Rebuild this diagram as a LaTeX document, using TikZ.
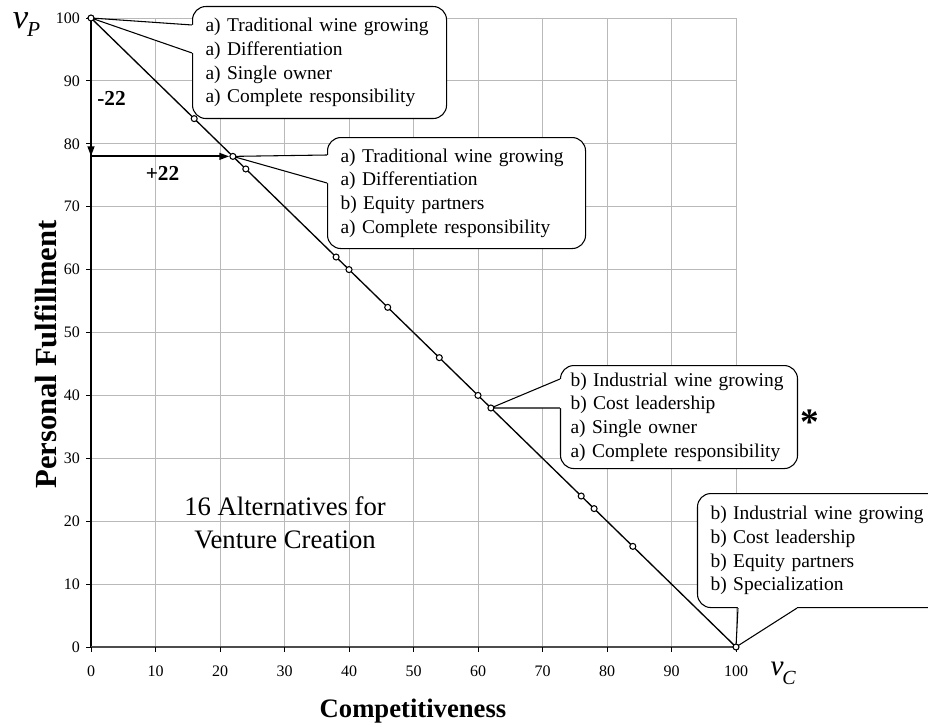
\documentclass[tikz,border=0pt]{standalone}
\usepackage{fontspec}
\setmainfont{Liberation Serif}
\usetikzlibrary{arrows.meta}
\hyphenpenalty=10000

\begin{document}
\begin{tikzpicture}[
    x=4.8375pt, y=4.7175pt,
    gridline/.style={draw=gray!55, line width=0.6pt},
    ticklabel/.style={font=\fontsize{12}{12}\selectfont, inner sep=0pt},
    axistitle/.style={font=\fontsize{20}{20}\selectfont\bfseries},
    callbox/.style={draw, fill=white, line width=0.8pt, rounded corners=10pt, anchor=north west,
        align=left, inner ysep=0pt, inner xsep=9.75pt, font=\fontsize{14.6}{17.8}\selectfont},
    alt/.style={circle, draw, fill=white, line width=0.8pt, inner sep=0pt, minimum size=4.5pt},
    movearrow/.style={-{Triangle[length=7.5pt,width=5pt]}, line width=1.5pt},
    jump/.style={font=\fontsize{16}{16}\selectfont\bfseries},
]
    \useasboundingbox (-14.109,-12.56) rectangle (129.767,102.862);

    % grid
    \foreach \g in {10,20,...,100} {
        \draw[gridline] (\g,0) -- (\g,100);
        \draw[gridline] (0,\g) -- (100,\g);
    }

    % axes, ticks and tick labels
    \draw[line width=0.8pt] (0,0) -- (0,100);
    \draw[draw=gray!60!black, line width=1.5pt] (0,0) -- (100,0);
    \foreach \t in {0,10,...,100} {
        \draw[line width=0.6pt] (0,\t) -- ++(-4pt,0);
        \draw[line width=0.6pt] (\t,0) -- ++(0,-4pt);
        \node[ticklabel, anchor=east] (ly\t) at (-1.7,\t) {\t};
        \node[ticklabel] (lx\t) at (\t,-3.8) {\t};
    }

    % the alternatives
    \foreach \v in {0,16,22,24,38,40,46,54,60,62,76,78,84,100}
        \coordinate (a\v) at (\v,{100-\v});
    \draw[line width=1pt] (a0) -- (a100);

    % callouts
    \node[callbox, text width=171pt, minimum height=84pt] (c1) at (15.66,101.91)
        {a) Traditional wine growing\\a) Differentiation\\a) Single owner\\a) Complete responsibility};
    \coordinate (c1a) at ([yshift=-14.25pt]c1.north west);
    \coordinate (c1b) at ([yshift=-35.25pt]c1.north west);
    \fill[white] (c1a) -- (a0) -- (c1b) -- ([xshift=2pt]c1b) -- ([xshift=2pt]c1a) -- cycle;
    \draw[line width=0.8pt] (c1a) -- (a0) -- (c1b);

    \node[callbox, text width=174pt, minimum height=83.25pt] (c2) at (36.59,81.08)
        {a) Traditional wine growing\\a) Differentiation\\b) Equity partners\\a) Complete responsibility};
    \coordinate (c2a) at ([yshift=-13.5pt]c2.north west);
    \coordinate (c2b) at ([yshift=-34.5pt]c2.north west);
    \fill[white] (c2a) -- (a22) -- (c2b) -- ([xshift=2pt]c2b) -- ([xshift=2pt]c2a) -- cycle;
    \draw[line width=0.8pt] (c2a) -- (a22) -- (c2b);

    \node[callbox, inner xsep=7.5pt, text width=162.75pt, minimum height=77.25pt] (c3) at (72.71,44.83)
        {b) Industrial wine growing\\b) Cost leadership\\a) Single owner\\a) Complete responsibility};
    \coordinate (c3a) at ([yshift=-10.5pt]c3.north west);
    \coordinate (c3b) at ([yshift=-32.25pt]c3.north west);
    \fill[white] (c3a) -- (a62) -- (c3b) -- ([xshift=2pt]c3b) -- ([xshift=2pt]c3a) -- cycle;
    \draw[line width=0.8pt] (c3a) -- (a62) -- (c3b);

    \node[callbox, text width=165pt, minimum height=85.5pt] (c4) at (93.95,24.48)
        {b) Industrial wine growing\\b) Cost leadership\\b) Equity partners\\b) Specialization};
    \coordinate (c4a) at ([xshift=30.75pt]c4.south west);
    \coordinate (c4b) at ([xshift=75pt]c4.south west);
    \fill[white] (c4a) -- (a100) -- (c4b) -- ([yshift=2pt]c4b) -- ([yshift=2pt]c4a) -- cycle;
    \draw[line width=0.8pt] (c4a) -- (a100) -- (c4b);

    \foreach \v in {0,16,22,24,38,40,46,54,60,62,76,78,84,100}
        \node[alt] (m\v) at (a\v) {};

    % trade-off arrows
    \coordinate (turn) at (0,78);
    \draw[movearrow] (m0) -- (turn);
    \draw[movearrow] (turn) -- (m22);
    \node[jump] (down) at (3.18,87.23) {-22};
    \node[jump] (right) at (11.09,75.31) {+22};

    % titles
    \node[axistitle] (xtitle) at (49.92,-10.17) {Competitiveness};
    \node[axistitle, font=\fontsize{23}{23}\selectfont\bfseries, rotate=90] (ytitle) at (-7.0,46.5) {Personal Fulfillment};
    \node[inner sep=0pt] (vp) at (-10.0,98.9)
        {\fontsize{26}{26}\selectfont\itshape v\kern-1pt\raisebox{-6pt}{\fontsize{16}{16}\selectfont P}};
    \node[inner sep=0pt] (vc) at (107.3,-4.21)
        {\fontsize{22}{22}\selectfont\itshape v\kern-1pt\raisebox{-7pt}{\fontsize{15}{15}\selectfont C}};
    \node[align=center, font=\fontsize{20}{24.75}\selectfont] (count) at (30.08,19.71)
        {16 Alternatives for\\Venture Creation};
    \node[anchor=base, inner sep=0pt, font=\fontsize{28}{28}\selectfont\bfseries] (star) at (111.47,33.86) {*};
\end{tikzpicture}
\end{document}
